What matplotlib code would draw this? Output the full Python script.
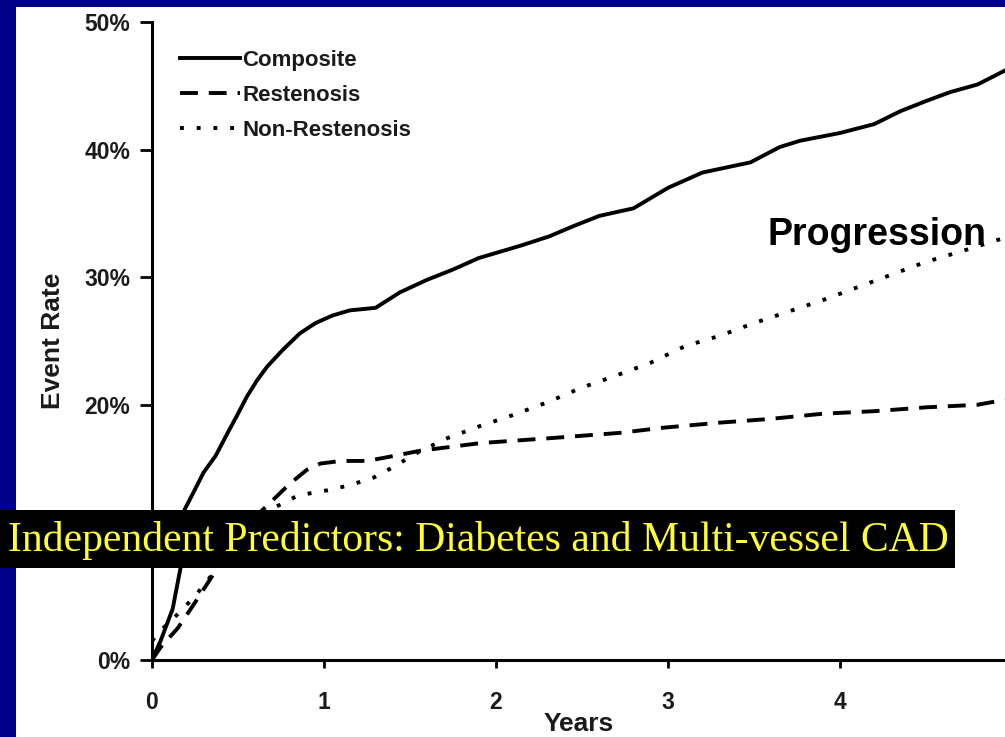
import matplotlib.pyplot as plt
from matplotlib.patches import Rectangle

# Data (years, event rate in %)
composite_t = [0, 0.05, 0.12, 0.17, 0.19, 0.24, 0.30, 0.37, 0.44, 0.50, 0.55, 0.61, 0.67,
               0.76, 0.86, 0.95, 1.05, 1.15, 1.30, 1.44, 1.60, 1.75, 1.90, 2.00, 2.15,
               2.31, 2.45, 2.60, 2.80, 3.00, 3.20, 3.48, 3.65, 3.77, 4.00, 4.20, 4.35,
               4.50, 4.64, 4.80, 4.96]
composite_v = [0, 1.5, 4.0, 7.5, 11.8, 13.1, 14.7, 16.0, 17.8, 19.3, 20.6, 21.9, 23.0,
               24.3, 25.6, 26.4, 27.0, 27.4, 27.6, 28.8, 29.8, 30.6, 31.5, 31.9, 32.5,
               33.2, 34.0, 34.8, 35.4, 37.0, 38.2, 39.0, 40.2, 40.7, 41.3, 42.0, 43.0,
               43.8, 44.5, 45.1, 46.2]

resten_t = [0, 0.05, 0.15, 0.25, 0.38, 0.50, 0.60, 0.70, 0.80, 0.90, 0.98, 1.10,
            1.25, 1.37, 1.56, 1.91, 2.33, 2.72, 2.97, 3.30, 3.60, 3.90, 4.20, 4.50,
            4.80, 4.96]
resten_v = [0, 1, 2.5, 4.5, 7.2, 9.5, 11.2, 12.5, 13.8, 14.9, 15.4, 15.6,
            15.6, 15.9, 16.4, 17.0, 17.4, 17.8, 18.2, 18.6, 18.9, 19.3, 19.5, 19.8,
            20.0, 20.4]

nonrest_t = [0, 0.05, 0.15, 0.25, 0.38, 0.50, 0.60, 0.72, 0.85, 1.02, 1.15, 1.29,
             1.40, 1.55, 1.72, 1.90, 2.10, 2.30, 2.49, 2.70, 2.90, 3.10, 3.30, 3.50,
             3.70, 3.90, 4.10, 4.30, 4.50, 4.70, 4.96]
nonrest_v = [1.5, 2.3, 3.6, 5.0, 7.2, 9.0, 10.5, 12.0, 12.9, 13.3, 13.7, 14.3,
             15.1, 16.3, 17.4, 18.3, 19.2, 20.2, 21.3, 22.3, 23.3, 24.6, 25.4, 26.4,
             27.3, 28.2, 29.2, 30.2, 31.2, 32.0, 33.1]

x_ticks = [0, 1, 2, 3, 4]
y_ticks = [0, 10, 20, 30, 40, 50]
# the 10% label sits under the caption banner in the slide, so it is left blank
y_labels = ["0%", "", "20%", "30%", "40%", "50%"]

NAVY = "#000088"
TXT = "#1a1a1a"
W, H = 1005, 737

fig = plt.figure(figsize=(W / 100, H / 100), dpi=100, facecolor=NAVY)
# white slide area
fig.patches.append(Rectangle((16 / W, 0), 1 - 16 / W, 1 - 7 / H, transform=fig.transFigure,
                             facecolor="white", edgecolor="none", zorder=-5))

ax = fig.add_axes([152 / W, (H - 660) / H, (W - 152) / W, (660 - 22) / H])
ax.set_facecolor("none")

lw = 2.8
ax.plot(composite_t, composite_v, color="black", lw=lw, label="Composite",
        solid_joinstyle="round")
ax.plot(resten_t, resten_v, color="black", lw=lw, linestyle=(0, (4.6, 2.8)), label="Restenosis")
ax.plot(nonrest_t, nonrest_v, color="black", lw=lw, linestyle=(0, (1.0, 3.3)),
        label="Non-Restenosis")

ax.set_xlim(0, 4.96)
ax.set_ylim(0, 50)
ax.set_xticks(x_ticks)
ax.set_yticks(y_ticks)
ax.set_yticklabels(y_labels)
ax.spines["top"].set_visible(False)
ax.spines["right"].set_visible(False)
ax.spines["left"].set_linewidth(2.2)
ax.spines["bottom"].set_linewidth(2.2)
ax.tick_params(axis="y", direction="out", length=8.5, width=2, pad=7)
ax.tick_params(axis="x", direction="out", length=6, width=2, pad=16)
for lab in ax.get_xticklabels() + ax.get_yticklabels():
    lab.set_fontfamily("Liberation Sans")
    lab.set_fontweight("bold")
    lab.set_fontsize(16.5)
    lab.set_color(TXT)

ax.set_xlabel("Years", fontsize=19, fontweight="bold", family="Liberation Sans",
              labelpad=-1, color=TXT)
ax.set_ylabel("Event Rate", fontsize=19, fontweight="bold", family="Liberation Sans",
              labelpad=14, color=TXT)

leg = ax.legend(loc="upper left", bbox_to_anchor=(0.033, 0.956), frameon=False,
                borderaxespad=0, borderpad=0,
                prop={"family": "Liberation Sans", "weight": "bold", "size": 16},
                handlelength=2.7, handletextpad=0.1, labelspacing=0.62)
for t in leg.get_texts():
    t.set_color(TXT)

ax.text(0.722, 0.666, "Progression", transform=ax.transAxes, fontsize=27,
        fontweight="bold", family="Liberation Sans", va="center", ha="left")

# black banner with yellow caption
fig.patches.append(Rectangle((0, (H - 568) / H), 955 / W, 58 / H, transform=fig.transFigure,
                             facecolor="black", edgecolor="none", zorder=5))
fig.text(8 / W, (H - 540) / H, "Independent Predictors: Diabetes and Multi-vessel CAD",
         family="Liberation Serif", fontsize=30, color="#ffff33", va="center", ha="left",
         zorder=6)

fig.savefig("out.png", dpi=100, facecolor=NAVY)
